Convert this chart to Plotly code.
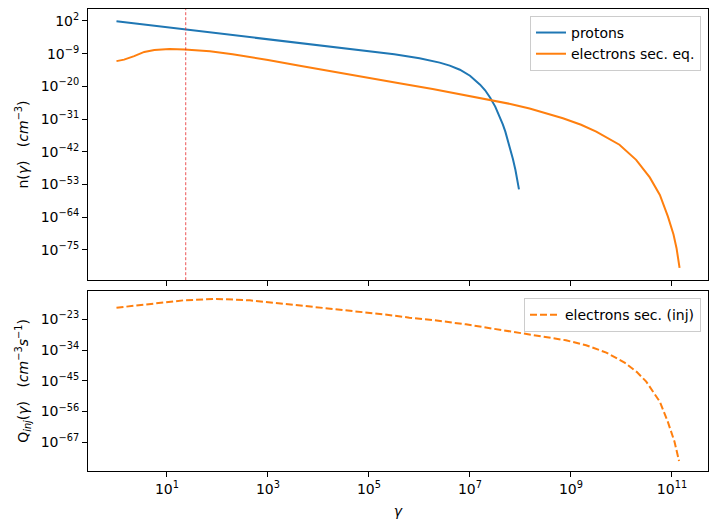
import plotly.graph_objects as go

# ---- data (log10 values) ----
protons_log_gamma = [0, 1, 2, 3, 4, 5, 5.5, 6.0, 6.2, 6.4, 6.6, 6.8, 7.0, 7.2, 7.3, 7.4, 7.5, 7.6, 7.65, 7.7,
                     7.75, 7.8, 7.85, 7.9, 7.94, 7.97]
protons_log_n = [1.9, -0.1, -2.1, -4.1, -6.1, -8.1, -9.2, -10.5, -11.2, -12.0, -13.0, -14.4, -16.4, -19.4, -21.3,
                 -23.8, -26.8, -30.5, -32.8, -35.2, -38.0, -41.1, -44.4, -48.1, -51.3, -54.6]

eq_log_gamma = [0, 0.15, 0.35, 0.55, 0.75, 1.05, 1.35, 1.85, 2.3, 3.0, 3.6, 4.3, 4.94, 5.6, 6.26, 6.9,
                7.44, 7.8, 8.18, 8.5, 8.84, 9.2, 9.50, 9.96, 10.29, 10.56, 10.76, 10.92, 11.03, 11.09, 11.15]
eq_log_n = [-11.5, -11.0, -9.8, -8.4, -7.75, -7.4, -7.6, -8.2, -9.2, -11.1, -13.0, -15.0, -16.9, -18.9, -20.9, -22.9,
            -24.7, -25.9, -27.4, -28.9, -30.7, -32.9, -35.2, -39.6, -44.7, -50.6, -56.5, -63.8, -69.8, -74.4, -81.0]

inj_log_gamma = [0, 0.67, 1.33, 1.98, 2.64, 3.30, 3.96, 4.62, 5.27, 5.80, 6.26, 6.92, 7.57, 8.23, 8.6, 8.9,
                 9.3, 9.7, 10.07, 10.3, 10.49, 10.65, 10.76, 10.92, 11.05, 11.14]
inj_log_q = [-18.85, -17.4, -16.2, -15.7, -16.2, -17.4, -18.7, -19.8, -21.2, -22.4, -23.25, -24.8, -26.6, -28.4,
             -29.5, -30.5, -32.3, -34.9, -38.6, -41.8, -45.3, -49.3, -52.5, -59.8, -66.8, -73.7]

vline_gamma = 23.5

x_tick_exp = [1, 3, 5, 7, 9, 11]
top_y_tick_exp = [2, -9, -20, -31, -42, -53, -64, -75]
bot_y_tick_exp = [-23, -34, -45, -56, -67]

BLUE = "#1f77b4"
ORANGE = "#ff7f0e"
FONT = "DejaVu Sans"


def pw(v):
    return [10 ** e for e in v]


def lab(e):
    s = str(e).replace("-", "\u2212")
    return "10<sup>" + s + "</sup>"


fig = go.Figure()

fig.add_trace(go.Scatter(x=pw(protons_log_gamma), y=pw(protons_log_n), mode="lines", name="protons",
                         line=dict(color=BLUE, width=2),
                         xaxis="x", yaxis="y", legend="legend"))
fig.add_trace(go.Scatter(x=pw(eq_log_gamma), y=pw(eq_log_n), mode="lines", name="electrons sec. eq.",
                         line=dict(color=ORANGE, width=2),
                         xaxis="x", yaxis="y", legend="legend"))
fig.add_trace(go.Scatter(x=[vline_gamma, vline_gamma], y=[1e10, 1e-95], mode="lines", showlegend=False,
                         line=dict(color="#e8282b", width=0.8, dash="3px,2px"), xaxis="x", yaxis="y",
                         hoverinfo="skip"))
fig.add_trace(go.Scatter(x=pw(inj_log_gamma), y=pw(inj_log_q), mode="lines", name="electrons sec. (inj)",
                         line=dict(color=ORANGE, width=2, dash="7px,3px"),
                         xaxis="x2", yaxis="y2", legend="legend2"))

axis_common = dict(showline=True, mirror=True, linecolor="black", linewidth=1, showgrid=False, zeroline=False,
                   ticks="outside", ticklen=5, tickwidth=1, tickcolor="black",
                   tickfont=dict(family=FONT, size=14, color="black"))

x_range = [-0.564, 11.713]

fig.update_layout(
    width=717, height=530,
    margin=dict(l=88, r=9, t=9, b=59),
    paper_bgcolor="white", plot_bgcolor="white",
    font=dict(family=FONT, size=14, color="black"),
    xaxis=dict(type="log", range=x_range, domain=[0, 1], anchor="y",
               tickvals=[10 ** e for e in x_tick_exp], ticktext=[lab(e) for e in x_tick_exp],
               showticklabels=False, **axis_common),
    yaxis=dict(type="log", range=[-85.1, 6.03], domain=[0.4134, 1], anchor="x",
               tickvals=[10 ** e for e in top_y_tick_exp], ticktext=[lab(e) for e in top_y_tick_exp],
               title=dict(text="n(<i>γ</i>)   (<i>cm</i><sup>\u22123</sup>)", font=dict(family=FONT, size=14),
                          standoff=8),
               **axis_common),
    xaxis2=dict(type="log", range=x_range, domain=[0, 1], anchor="y2", matches="x",
                tickvals=[10 ** e for e in x_tick_exp], ticktext=[lab(e) for e in x_tick_exp],
                title=dict(text="<i>γ</i>", font=dict(family=FONT, size=14), standoff=10),
                **axis_common),
    yaxis2=dict(type="log", range=[-77.27, -12.87], domain=[0, 0.3896], anchor="x2",
                tickvals=[10 ** e for e in bot_y_tick_exp], ticktext=[lab(e) for e in bot_y_tick_exp],
                title=dict(text="Q<sub><i>inj</i></sub>(<i>γ</i>)   (<i>cm</i><sup>\u22123</sup><i>s</i><sup>\u22121</sup>)",
                           font=dict(family=FONT, size=14), standoff=8),
                **axis_common),
    legend=dict(x=0.9887, y=0.985, xanchor="right", yanchor="top", bgcolor="rgba(255,255,255,0.8)",
                bordercolor="#cccccc", borderwidth=1, font=dict(family=FONT, size=14)),
    legend2=dict(x=0.9887, y=0.374, xanchor="right", yanchor="top", bgcolor="rgba(255,255,255,0.8)",
                 bordercolor="#cccccc", borderwidth=1, font=dict(family=FONT, size=14)),
    showlegend=True,
)

fig.write_html("out.html")
